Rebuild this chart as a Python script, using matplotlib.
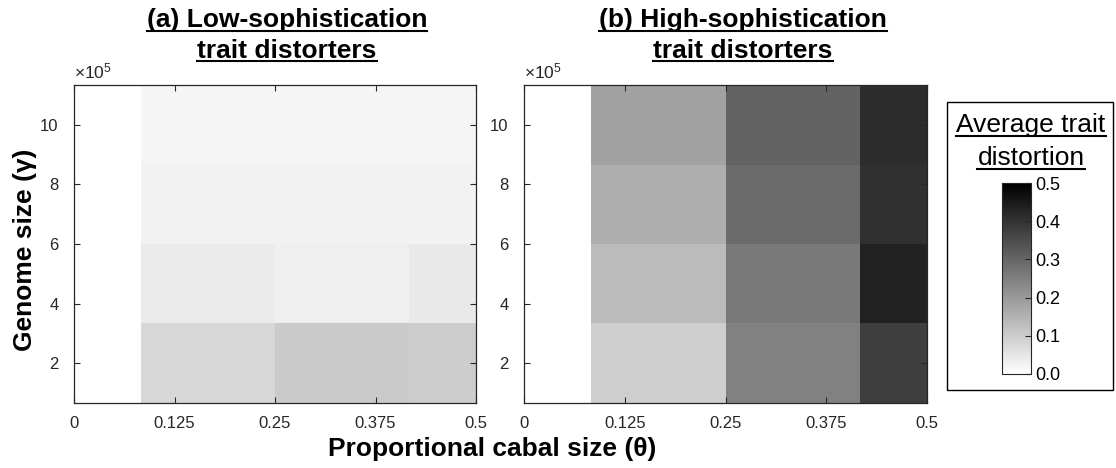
import numpy as np
import matplotlib
matplotlib.use("Agg")
import matplotlib.pyplot as plt
from matplotlib.patches import Rectangle
from matplotlib.lines import Line2D
from matplotlib.ticker import FuncFormatter

plt.rcParams['font.family'] = ['Liberation Sans', 'DejaVu Sans']
plt.rcParams['mathtext.fontset'] = 'custom'
plt.rcParams['mathtext.rm'] = 'Liberation Sans'
plt.rcParams['mathtext.it'] = 'Liberation Sans:italic'

# Data
theta = [0, 1/6, 1/3, 1/2]                      # proportional cabal size
genome = [2e5, 4.6667e5, 7.3333e5, 10e5]        # genome size
xtick_vals = [0, 0.125, 0.25, 0.375, 0.5]
xtick_labels = ["0", "0.125", "0.25", "0.375", "0.5"]
ytick_vals = [2e5, 4e5, 6e5, 8e5, 10e5]
cbar_ticks = [0, 0.1, 0.2, 0.3, 0.4, 0.5]

# rows = genome size (bottom to top), cols = theta
low_soph = [
    [0.0, 0.080, 0.104, 0.098],
    [0.0, 0.041, 0.033, 0.043],
    [0.0, 0.026, 0.026, 0.026],
    [0.0, 0.020, 0.020, 0.020],
]
high_soph = [
    [0.0, 0.096, 0.247, 0.378],
    [0.0, 0.133, 0.263, 0.435],
    [0.0, 0.159, 0.290, 0.406],
    [0.0, 0.182, 0.306, 0.414],
]

titles = [
    ["(a) Low-sophistication", "trait distorters"],
    ["(b) High-sophistication", "trait distorters"],
]

W, H = 1116, 468
fig = plt.figure(figsize=(W / 100, H / 100), dpi=100)
axcol = "#262626"


def px_rect(x0, y0, x1, y1):
    # pixel box (from top-left) -> figure fraction
    return [x0 / W, 1 - y1 / H, (x1 - x0) / W, (y1 - y0) / H]


ax_boxes = [(74, 85, 476, 403), (524, 85, 927, 403)]
title_x = [287, 743]
under_texts = []

for i, (data, box) in enumerate(zip([low_soph, high_soph], ax_boxes)):
    ax = fig.add_axes(px_rect(*box))
    mesh = ax.pcolormesh(theta, genome, np.array(data), shading="nearest",
                         cmap="gray_r", vmin=0, vmax=0.5)
    ax.set_xlim(0, 0.5)
    ax.set_ylim(genome[0] - (genome[1] - genome[0]) / 2,
                genome[-1] + (genome[1] - genome[0]) / 2)
    ax.set_xticks(xtick_vals)
    ax.set_xticklabels(xtick_labels)
    ax.set_yticks(ytick_vals)
    ax.yaxis.set_major_formatter(FuncFormatter(lambda v, p: "%g" % (v / 1e5)))
    ax.tick_params(direction="in", top=True, right=True, length=4, width=0.8,
                   color=axcol, labelcolor=axcol, labelsize=12)
    ax.tick_params(axis="x", pad=9)
    ax.tick_params(axis="y", pad=11)
    for s in ax.spines.values():
        s.set_color(axcol)
        s.set_linewidth(0.9)
    ax.text(0, 1.012, r"$\times10^{5}$", transform=ax.transAxes, ha="left",
            va="bottom", fontsize=12.5, color=axcol)

    for j, line in enumerate(titles[i]):
        t = fig.text(title_x[i] / W, 1 - [27.5, 57.5][j] / H, line, ha="center",
                     va="baseline", fontsize=19, fontweight="bold")
        under_texts.append(t)

fig.text(25 / W, 1 - 250 / H, "Genome size (γ)", rotation=90, ha="center",
         va="center", fontsize=19, fontweight="bold")
fig.text(492 / W, 1 - 449 / H, "Proportional cabal size (θ)", ha="center",
         va="center", fontsize=19, fontweight="bold")

# colorbar with framed label
fig.add_artist(Rectangle((947 / W, 1 - 390 / H), (1113 - 947) / W, (390 - 102) / H,
                         transform=fig.transFigure, fill=False, edgecolor="black",
                         linewidth=1.0))
cax = fig.add_axes(px_rect(1002, 183, 1031, 374))
cb = fig.colorbar(mesh, cax=cax, ticks=cbar_ticks, format="%.1f")
cb.outline.set_edgecolor(axcol)
cb.outline.set_linewidth(0.8)
cax.tick_params(direction="in", length=4, width=0.8, color=axcol,
                labelcolor="black", labelsize=13, pad=3)

for j, line in enumerate(["Average trait", "distortion"]):
    t = fig.text(1031 / W, 1 - [132, 165][j] / H, line, ha="center",
                 va="baseline", fontsize=19)
    under_texts.append(t)

# underline the titles
fig.canvas.draw()
inv = fig.transFigure.inverted()
for t in under_texts:
    bb = t.get_window_extent()
    base = fig.transFigure.transform(t.get_position())[1]
    yline = base - 4
    (fx0, fy), (fx1, _) = inv.transform([(bb.x0, yline), (bb.x1, yline)])
    fig.add_artist(Line2D([fx0, fx1], [fy, fy], transform=fig.transFigure,
                          color="black", linewidth=1.5))

fig.savefig("out.png", dpi=100)
